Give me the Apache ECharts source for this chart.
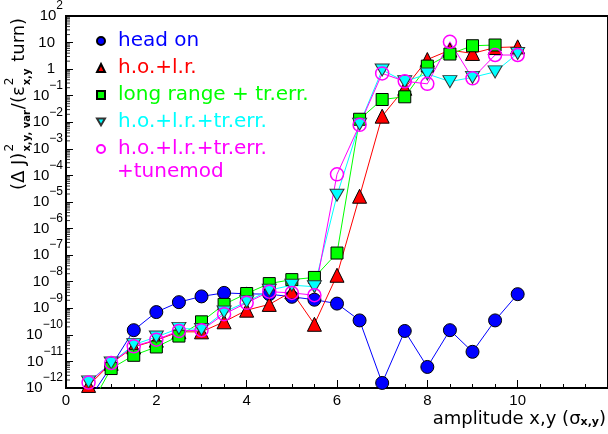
<!DOCTYPE html>
<html>
<head>
<meta charset="utf-8">
<script src="https://cdn.jsdelivr.net/npm/echarts@6/dist/echarts.min.js"></script>
<style>
  html, body { margin: 0; padding: 0; background: #fff; }
  #chart { width: 608px; height: 434px; }
</style>
</head>
<body>
<div id="chart"></div>
<script>
// Amplitudes (in units of sigma) at which the diffusion was evaluated
const amplitudes = [0.5, 1, 1.5, 2, 2.5, 3, 3.5, 4, 4.5, 5, 5.5, 6, 6.5, 7, 7.5, 8, 8.5, 9, 9.5, 10];

// (Delta J)^2 per turn, one list per configuration
const headOn = [3.5e-13, 6.6e-12, 1.5e-10, 7.2e-10, 1.7e-9, 2.8e-9, 3.8e-9, 3.5e-9, 3.4e-9, 2.7e-9,
                2.1e-9, 1.5e-9, 3.5e-10, 1.55e-12, 1.4e-10, 6.2e-12, 1.5e-10, 2.3e-11, 3.5e-10, 3.4e-9];
const hoLr = [1.25e-12, 8.5e-12, 3.5e-11, 6.3e-11, 1.3e-10, 1.3e-10, 3.1e-10, 8.5e-10, 1.4e-9, 4.2e-9,
              2.5e-10, 1.75e-8, 1.65e-5, 0.017, 0.19, 2.3, 5.2, 3.9, 6.5, 6.9];
const longRangeErr = [1.6e-13, 5.4e-12, 1.7e-11, 3.5e-11, 9e-11, 3.1e-10, 1.4e-9, 3.6e-9, 8.5e-9, 1.2e-8,
                      1.45e-8, 1.2e-7, 0.013, 0.072, 0.091, 1.3, 3.7, 7.6, 8.1, null];
const hoLrErr = [1.7e-12, 8.7e-12, 4.3e-11, 8.3e-11, 1.75e-10, 1.6e-10, 7.2e-10, 1.75e-9, 4.8e-9, 7.4e-9,
                 6.5e-9, 1.8e-5, 0.0085, 0.93, 0.34, 0.66, 0.34, 0.49, 0.79, 3.9];
const hoLrErrTune = [1.6e-12, 8.7e-12, 3.7e-11, 6.6e-11, 1.4e-10, 1.5e-10, 6e-10, 1.6e-9, 4.2e-9, 3.8e-9,
                     3.1e-9, 1.1e-4, 0.008, 0.69, 0.35, 0.28, 10.7, 0.45, 3.4, 3.4];

const seriesNames = ['head on', 'h.o.+l.r.', 'long range + tr.err.', 'h.o.+l.r.+tr.err.', 'h.o.+l.r.+tr.err. +tunemod'];

const TICK_FONT = '"Liberation Sans", Arial, sans-serif';
const TEXT_FONT = '"DejaVu Sans", sans-serif';

const pairs = vals => amplitudes.map((x, i) => [x, vals[i]]);

// Logarithmic sub-decade tick positions (2..9 x 10^k) for the y axis
const minorY = [];
for (let k = -12; k < 2; k++) {
  for (let m = 2; m <= 9; m++) minorY.push([0, m * Math.pow(10, k)]);
}

const downTri = 'path://M0,0 L20,0 L10,17 Z';

// Text width helper for laying out the rotated y-axis title
const ctx = document.createElement('canvas').getContext('2d');
function tw(text, font) { ctx.font = font; return ctx.measureText(text).width; }

const bigF = '18px "DejaVu Sans"';
const supF = '12px "DejaVu Sans"';
const subF = 'bold 10px "DejaVu Sans"';
const titleParts = [];
let cx = 0;
function big(t) { titleParts.push({ type: 'text', x: cx, y: 0, style: { text: t, font: bigF, fill: '#000', align: 'left', verticalAlign: 'middle' } }); cx += tw(t, bigF); }
function supSub(sup, sub) {
  titleParts.push({ type: 'text', x: cx + 1, y: -9, style: { text: sup, font: supF, fill: '#000', align: 'left', verticalAlign: 'middle' } });
  titleParts.push({ type: 'text', x: cx + 1, y: 8, style: { text: sub, font: subF, fill: '#000', align: 'left', verticalAlign: 'middle' } });
  cx += Math.max(tw(sup, supF), tw(sub, subF)) + 2;
}
big('(\u0394 J)');
supSub('2', 'x,y, var');
big('/(\u03b5');
supSub('2', 'x,y');
big(' turn)');

const chart = echarts.init(document.getElementById('chart'));

function lineSeries(name, vals, symbol, size, itemStyle, lineColor) {
  return {
    name: name,
    type: 'line',
    data: pairs(vals),
    symbol: symbol,
    symbolSize: size,
    showAllSymbol: true,
    connectNulls: false,
    clip: true,
    itemStyle: itemStyle,
    lineStyle: { color: lineColor, width: 1 },
    emphasis: { disabled: true }
  };
}

chart.setOption({
  animation: false,
  backgroundColor: '#fff',
  grid: { left: 66, right: -50, top: 16, bottom: 46, show: true, borderColor: '#000', borderWidth: 2, backgroundColor: 'transparent' },
  xAxis: {
    type: 'value', min: 0, max: 12, interval: 2,
    axisLine: { lineStyle: { color: '#000', width: 2 } },
    axisTick: { inside: true, length: 8, lineStyle: { color: '#000' } },
    minorTick: { show: true, splitNumber: 4, length: 4, lineStyle: { color: '#000' } },
    splitLine: { show: false },
    axisLabel: { color: '#000', fontSize: 15, fontFamily: TICK_FONT, margin: 5, showMaxLabel: false }
  },
  yAxis: {
    type: 'log', logBase: 10, min: 1e-12, max: 100, interval: 1,
    axisLine: { lineStyle: { color: '#000', width: 2 } },
    axisTick: { inside: true, length: 7, lineStyle: { color: '#000' } },
    splitLine: { show: false },
    axisLabel: {
      color: '#000', margin: 3,
      formatter: v => {
        const e = Math.round(Math.log10(v));
        if (e === 0) return '{n|1}';
        if (e === 1) return '{n|10}';
        return '{b|10}{s|' + (e < 0 ? '\u2212' : '') + Math.abs(e) + '}';
      },
      rich: {
        b: { fontSize: 15, fontFamily: TICK_FONT, color: '#000', lineHeight: 26 },
        n: { fontSize: 15, fontFamily: TICK_FONT, color: '#000', lineHeight: 26, padding: [0, 8, 0, 0] },
        s: { fontSize: 12, fontFamily: TICK_FONT, color: '#000', height: 6, lineHeight: 6, verticalAlign: 'top' }
      }
    }
  },
  legend: {
    orient: 'vertical', left: 96, top: 28, padding: 0, itemGap: 1,
    itemWidth: 8, itemHeight: 8, selectedMode: false,
    formatter: name => name.replace(' +tunemod', ''),
    textStyle: { fontSize: 20, fontFamily: TEXT_FONT, lineHeight: 26, padding: [0, 0, 0, 8] },
    data: [
      { name: seriesNames[0], icon: 'circle', textStyle: { color: '#0000ff' } },
      { name: seriesNames[1], icon: 'triangle', textStyle: { color: '#ff0000' } },
      { name: seriesNames[2], icon: 'rect', textStyle: { color: '#00ff00' } },
      { name: seriesNames[3], icon: downTri, textStyle: { color: '#00ffff' } },
      { name: seriesNames[4], icon: 'circle', textStyle: { color: '#ff00ff' } }
    ]
  },
  graphic: [
    { type: 'group', x: 19, y: 190, rotation: Math.PI / 2, children: titleParts },
    {
      type: 'text', right: 2, top: 410,
      style: {
        text: '{a|amplitude x,y (\u03c3}{s|x,y}{a|)}',
        rich: {
          a: { fontSize: 18, fontFamily: TEXT_FONT, fill: '#000', lineHeight: 24, verticalAlign: 'bottom' },
          s: { fontSize: 11, fontFamily: TEXT_FONT, fill: '#000', fontWeight: 'bold', lineHeight: 13, verticalAlign: 'bottom' }
        }
      }
    },
    { type: 'text', x: 117, y: 172, style: { text: '+tunemod', font: '20px "DejaVu Sans"', fill: '#ff00ff', verticalAlign: 'middle' } }
  ],
  series: [
    {
      name: 'minor', type: 'scatter', data: minorY, symbol: 'rect', symbolSize: [4, 1], symbolOffset: [2, 0],
      itemStyle: { color: '#000' }, silent: true, z: 1
    },
    lineSeries(seriesNames[0], headOn, 'circle', 13,
      { color: '#0000ff', borderColor: '#000', borderWidth: 1 }, '#0000ff'),
    lineSeries(seriesNames[1], hoLr, 'triangle', 14,
      { color: '#ff0000', borderColor: '#000', borderWidth: 1 }, '#ff0000'),
    lineSeries(seriesNames[2], longRangeErr, 'rect', 12,
      { color: '#00ff00', borderColor: '#000', borderWidth: 1 }, '#00ff00'),
    lineSeries(seriesNames[3], hoLrErr, downTri, [14, 12],
      { color: '#00ffff', borderColor: '#333', borderWidth: 1 }, '#00ffff'),
    lineSeries(seriesNames[4], hoLrErrTune, 'circle', 13,
      { color: 'rgba(255,255,255,0)', borderColor: '#ff00ff', borderWidth: 1.5 }, '#ff00ff')
  ]
});
</script>
</body>
</html>
